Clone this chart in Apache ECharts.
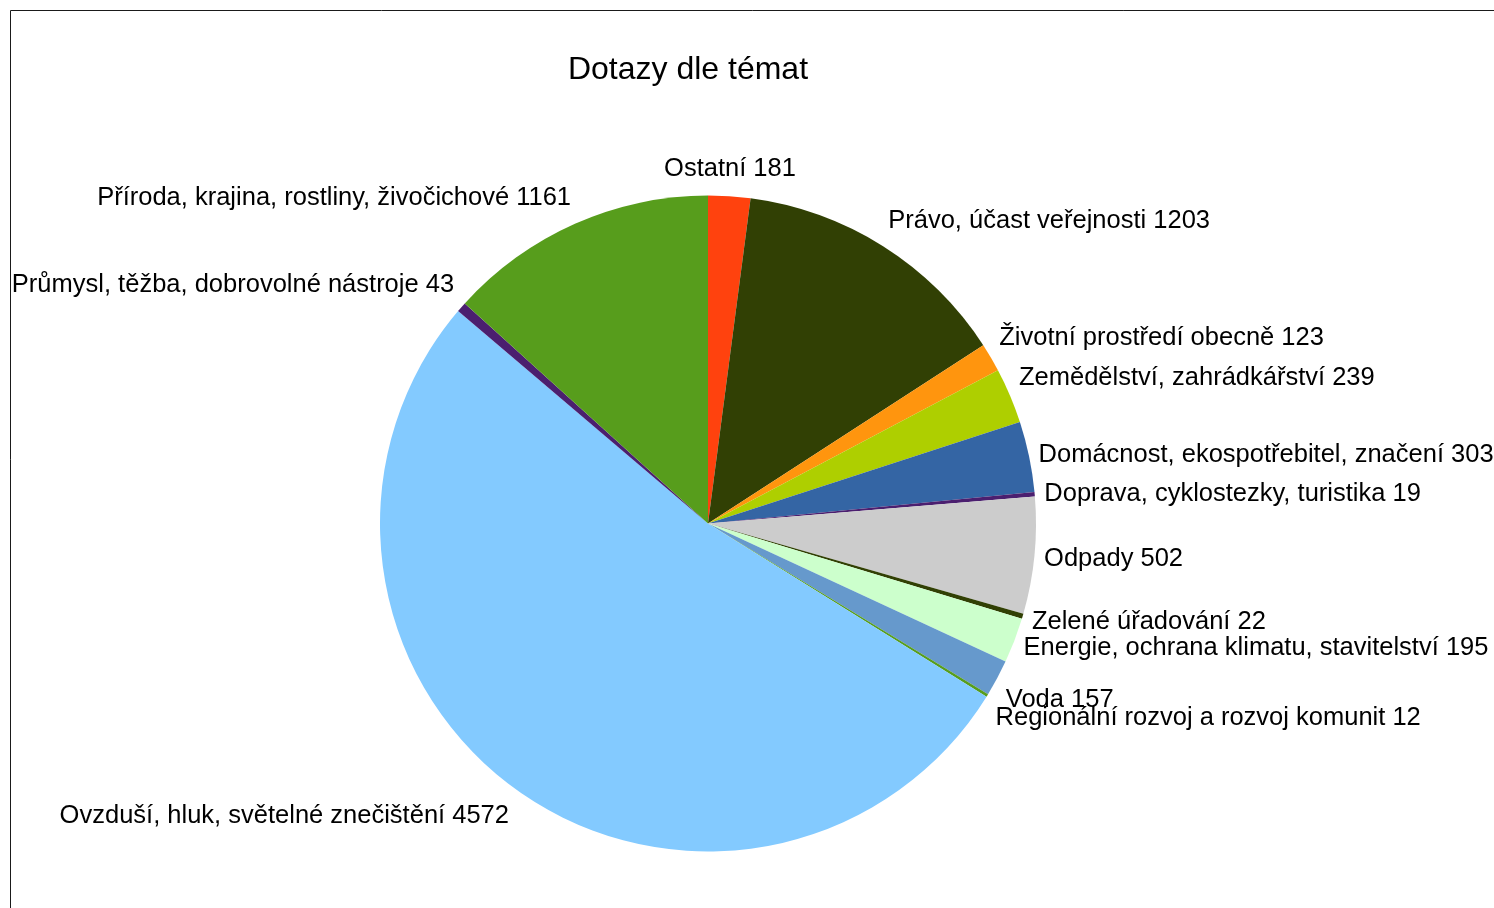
<!DOCTYPE html>
<html><head><meta charset="utf-8">
<script src="https://cdn.jsdelivr.net/npm/echarts@6/dist/echarts.min.js"></script>
<style>html,body{margin:0;padding:0;background:#fff}#c{width:1494px;height:908px}</style>
</head><body><div id="c"></div>
<script>
const titleText = 'Dotazy dle témat';
const categories = [
  'Ostatní',
  'Právo, účast veřejnosti',
  'Životní prostředí obecně',
  'Zemědělství, zahrádkářství',
  'Domácnost, ekospotřebitel, značení',
  'Doprava, cyklostezky, turistika',
  'Odpady',
  'Zelené úřadování',
  'Energie, ochrana klimatu, stavitelství',
  'Voda',
  'Regionální rozvoj a rozvoj komunit',
  'Ovzduší, hluk, světelné znečištění',
  'Průmysl, těžba, dobrovolné nástroje',
  'Příroda, krajina, rostliny, živočichové'
];
const values = [181, 1203, 123, 239, 303, 19, 502, 22, 195, 157, 12, 4572, 43, 1161];
const colors = ['#ff420e', '#314004', '#ff950e', '#aecf00', '#3465a4', '#4b1f6f', '#cccccc',
  '#314004', '#ccffcc', '#6699cc', '#579d1c', '#83caff', '#4b1f6f', '#579d1c'];

const chart = echarts.init(document.getElementById('c'), null, {renderer: 'canvas'});
const GAP_X = 9.7, GAP_Y = 16, SHIFT_Y = 1.5;

function placeLabel(p) {
  const data = chart.getModel().getSeriesByIndex(0).getData();
  const lay = data.getItemLayout(p.dataIndex);
  const mid = (lay.startAngle + lay.endAngle) / 2;
  const c = Math.cos(mid), s = Math.sin(mid);
  const x = lay.cx + lay.r * c + GAP_X * c;
  const y = lay.cy + lay.r * s + GAP_Y * s + SHIFT_Y;
  let deg = (mid * 180 / Math.PI + 90) % 360;
  if (deg < 0) deg += 360;
  const sector = Math.round(deg / 45) % 8;
  const align = (sector === 0 || sector === 4) ? 'center' : (sector < 4 ? 'left' : 'right');
  const verticalAlign = (sector === 2 || sector === 6) ? 'middle' :
    ((sector === 0 || sector === 1 || sector === 7) ? 'bottom' : 'top');
  return {x: x, y: y, align: align, verticalAlign: verticalAlign};
}

chart.setOption({
  animation: false,
  backgroundColor: '#ffffff',
  title: {
    text: titleText,
    left: 683, top: 49, textAlign: 'center',
    textStyle: {fontFamily: 'Liberation Sans', fontSize: 32, fontWeight: 'normal', color: '#000'}
  },
  graphic: [{
    type: 'rect', shape: {x: 10.5, y: 10.5, width: 1700, height: 1200},
    style: {fill: 'none', stroke: '#1a1a1a', lineWidth: 1}, silent: true
  }],
  series: [{
    type: 'pie',
    center: [708, 523.5],
    radius: 328,
    startAngle: 90,
    clockwise: true,
    avoidLabelOverlap: false,
    minShowLabelAngle: 0,
    data: categories.map((c, i) => ({name: c, value: values[i], itemStyle: {color: colors[i]}})),
    itemStyle: {borderWidth: 0},
    emphasis: {disabled: true},
    label: {
      show: true, position: 'outside', formatter: '{b} {c}',
      fontFamily: 'Liberation Sans', fontSize: 25.5, color: '#000'
    },
    labelLine: {show: false},
    labelLayout: placeLabel
  }]
});
</script></body></html>
